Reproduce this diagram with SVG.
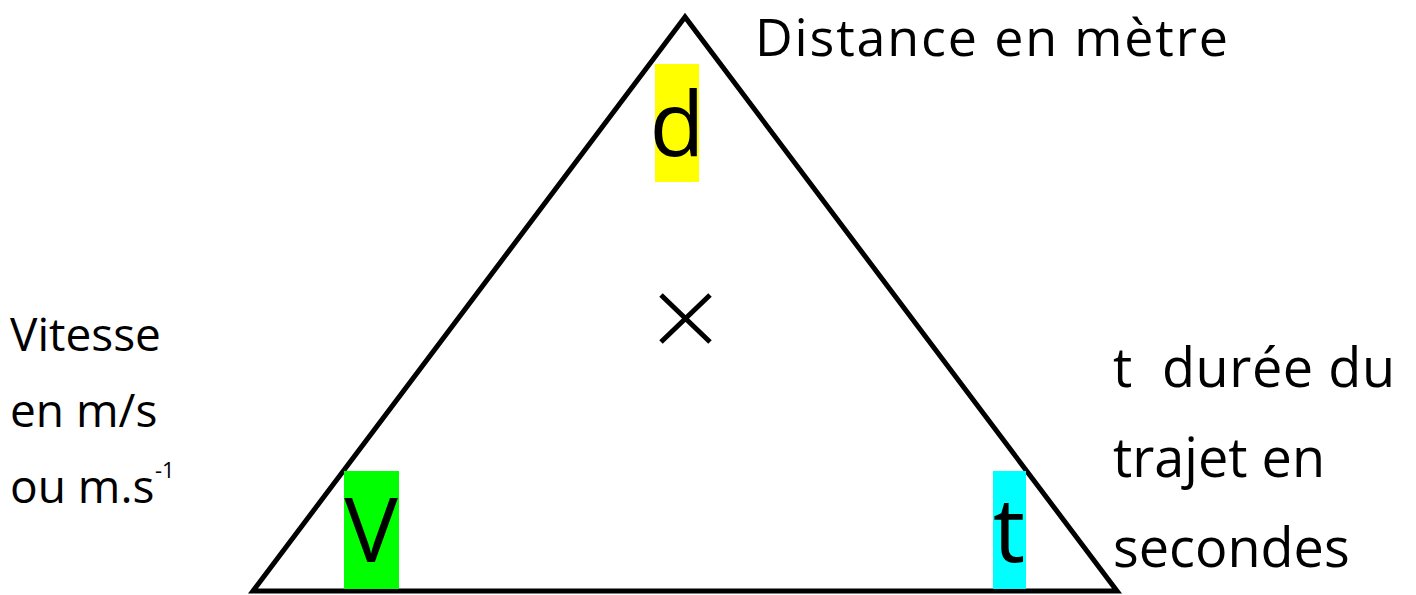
<svg xmlns="http://www.w3.org/2000/svg" width="1416" height="595" viewBox="0 0 1416 595">
<style>
text{font-family:"Open Sans","Liberation Sans",sans-serif;fill:#000}
.lbl{font-size:46px}
.rt{font-size:54px;white-space:pre}
.big{font-size:90px;text-anchor:middle}
</style>
<rect width="1416" height="595" fill="#fff"/>
<g id="triangle">
<polygon points="685,17 253,591 1117,591" fill="none" stroke="#000" stroke-width="5" stroke-linejoin="miter"/>
</g>
<g id="node-d">
<rect x="655" y="64" width="44" height="118" fill="#ffff00"/>
<text class="big" x="677" y="156">d</text>
</g>
<g id="node-v">
<rect x="344" y="471" width="55" height="118" fill="#00ff00"/>
<text class="big" x="371" y="562">V</text>
</g>
<g id="node-t">
<rect x="993" y="471" width="33" height="118" fill="#00ffff"/>
<text class="big" x="1009" y="562">t</text>
</g>
<g id="times">
<path d="M661,295 L710,342 M710,295 L661,342" stroke="#000" stroke-width="5" fill="none"/>
</g>
<g id="label-distance">
<text x="755" y="56" style="font-size:52px" textLength="473">Distance en mètre</text>
</g>
<g id="label-vitesse">
<text class="lbl" x="10" y="351">Vitesse</text>
<text class="lbl" x="10" y="427">en m/s</text>
<text class="lbl" x="10" y="503">ou m.s</text>
<text x="155" y="478" style="font-size:22px">-1</text>
</g>
<g id="label-duree">
<text class="rt" x="1113" y="387" xml:space="preserve" textLength="282">t  durée du</text>
<text class="rt" x="1113" y="477">trajet en</text>
<text class="rt" x="1113" y="567">secondes</text>
</g>
</svg>
